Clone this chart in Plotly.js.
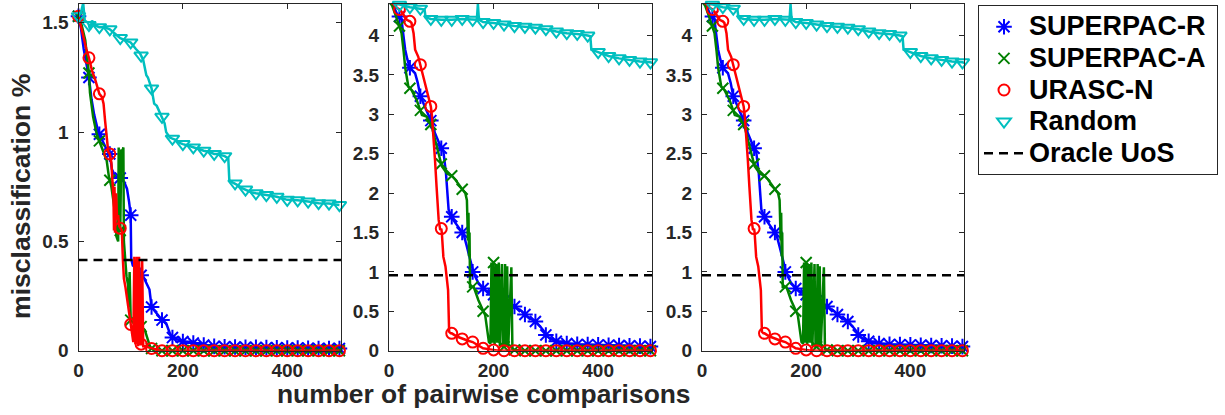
<!DOCTYPE html>
<html><head><meta charset="utf-8">
<script src="https://cdn.plot.ly/plotly-3.0.1.min.js"></script>
<style>html,body{margin:0;padding:0;background:#fff}</style>
</head><body><div id="chart" style="width:1225px;height:415px"></div>
<script>
// ---------- data ----------
const seriesNames = ['SUPERPAC-R', 'SUPERPAC-A', 'URASC-N', 'Random'];
const oracleName = 'Oracle UoS';
const xTicks = [0, 200, 400];
const xMax = 503;

// Panel 1
const p1_R_x = [0,5,10,16,20,25,30,38,40,45,52,60,64,70,80,88,93,97,100,101,104,110,118,120,124,130,136,140,150,160,168,175,180,190,200,220,240,260,280,300,320,340,360,380,400,420,440,460,480,500];
const p1_R_y = [1.53,1.47,1.38,1.31,1.25,1.15,1.08,1.0,0.99,0.96,0.93,0.9,0.83,0.8,0.79,0.77,0.74,0.68,0.62,0.42,0.39,0.38,0.35,0.345,0.34,0.31,0.28,0.2,0.17,0.14,0.125,0.08,0.06,0.05,0.042,0.035,0.026,0.02,0.018,0.017,0.016,0.015,0.014,0.013,0.012,0.012,0.011,0.01,0.01,0.01];
const p1_A_x = [0,5,9,13,16,20,22,28,35,40,47,54,58,60,63,66,70,73,76,77,78,80,82,84,86,87,89,92,95,96,98,100,104,110,116,120,127,133,137,140,150,160,180,200,220,240,260,280,300,320,340,360,380,400,420,440,460,480,500];
const p1_A_y = [1.53,1.5,1.46,1.42,1.35,1.27,1.18,1.07,0.99,0.96,0.91,0.87,0.8,0.78,0.75,0.7,0.63,0.52,0.5,0.93,0.6,0.55,0.92,0.91,0.93,0.5,0.41,0.34,0.3,0.2,0.36,0.14,0.13,0.12,0.11,0.11,0.095,0.05,0.02,0.01,0.005,0,0,0,0,0,0,0,0,0,0,0,0,0,0,0,0,0,0];
const p1_N_x = [0,5,10,15,20,26,32,40,45,48,51,54,57,60,63,65,67,68,69,70,72,74,76,78,80,83,85,87,90,93,96,100,103,105,107,109,112,114,116,118,120,122,124,128,134,140,150,160,180,200,220,240,260,280,300,320,340,360,380,400,420,440,460,480,500];
const p1_N_y = [1.53,1.48,1.42,1.38,1.34,1.28,1.24,1.175,1.16,1.13,1.05,0.99,0.91,0.9,0.86,0.78,0.7,0.55,0.75,0.54,0.72,0.6,0.62,0.57,0.56,0.55,0.42,0.33,0.29,0.24,0.2,0.12,0.09,0.04,0.43,0.03,0.43,0.02,0.43,0.03,0.03,0.41,0.02,0.02,0.015,0.01,0.005,0,0,0,0,0,0,0,0,0,0,0,0,0,0,0,0,0,0];
const p1_Rand_x = [0,5,9,12,18,20,22,26,30,40,50,60,70,80,90,100,110,118,120,124,130,133,140,145,150,156,160,165,168,175,180,186,195,200,214,220,235,240,249,260,265,280,287,289,295,300,303,312,320,322,331,340,360,380,400,420,440,460,480,500];
const p1_Rand_y = [1.53,1.55,1.59,1.51,1.5,1.49,1.47,1.51,1.49,1.48,1.48,1.47,1.45,1.43,1.42,1.41,1.38,1.36,1.35,1.33,1.26,1.25,1.2,1.13,1.12,1.09,1.07,1.04,1.0,0.975,0.97,0.965,0.95,0.945,0.935,0.93,0.92,0.915,0.91,0.9,0.9,0.89,0.88,0.78,0.77,0.765,0.76,0.745,0.737,0.735,0.725,0.72,0.712,0.704,0.69,0.688,0.682,0.675,0.673,0.666];
const p1_oracle = 0.415;

// Panels 2 and 3 (identical results)
const p2_R_x = [0,8,15,20,24,27,31,35,40,50,55,60,66,72,80,82,88,94,98,100,104,109,114,118,120,123,133,140,143,149,155,160,162,171,180,184,194,200,207,220,223,232,240,245,254,260,261,270,280,290,296,300,303,315,320,335,340,360,380,400,420,440,460,480,500,505];
const p2_R_y = [4.43,4.38,4.28,4.24,4.2,4.03,3.82,3.7,3.59,3.52,3.4,3.23,3.14,3.05,2.92,2.89,2.76,2.66,2.59,2.57,2.53,2.25,1.79,1.72,1.7,1.66,1.57,1.5,1.47,1.32,1.15,1.0,0.98,0.86,0.79,0.77,0.73,0.71,0.69,0.63,0.62,0.6,0.56,0.54,0.5,0.46,0.45,0.41,0.37,0.3,0.25,0.2,0.18,0.135,0.12,0.093,0.09,0.08,0.077,0.074,0.07,0.066,0.062,0.058,0.052,0.05];
const p2_A_x = [0,6,11.5,18,20,24,28,31,37,40,43,53,60,63,72,80,82,88,95,100,101,111,120,127,136,140,146,149,151,152,153,154,155,160,162,171,180,184,191,194,196,198,200,202,205,207,210,212,216,218,220,222,224,226,228,234,236,240,260,280,300,320,340,360,380,400,420,440,460,480,500,505];
const p2_A_y = [4.43,4.38,4.28,4.16,4.12,4.03,3.8,3.59,3.35,3.33,3.31,3.18,3.05,2.99,2.97,2.87,2.84,2.68,2.5,2.37,2.34,2.25,2.22,2.17,2.08,2.05,2.0,1.91,1.4,1.75,1.2,1.5,0.81,0.81,0.81,0.64,0.5,0.45,0.11,0.09,1.12,0.1,1.12,0.08,1.1,0.1,1.12,0.06,1.1,0.05,0.05,1.1,0.05,1.07,0.04,1.06,0.02,0.01,0,0,0,0,0,0,0,0,0,0,0,0,0,0];
const p2_N_x = [0,8,15,20,24,34,40,43,47,50,56,60,63,69,75,79,80,82,85,88,91,95,98,100,101,102,104,108,111,113,114,115,118,120,130,140,150,160,170,180,190,200,210,220,240,260,280,300,320,340,360,380,400,420,440,460,480,500,505];
const p2_N_y = [4.43,4.4,4.35,4.33,4.3,4.2,4.18,4.16,4.03,3.82,3.73,3.63,3.56,3.39,3.23,3.14,3.1,2.99,2.76,2.42,2.08,1.66,1.53,1.55,1.5,1.41,1.19,1.07,0.9,0.77,0.5,0.24,0.22,0.22,0.18,0.15,0.13,0.11,0.07,0.03,0.02,0.01,0,0,0,0,0,0,0,0,0,0,0,0,0,0,0,0,0];
const p2_Rand_x = [0,10,20,30,40,50,60,68,70,80,100,120,140,160,168,170,172,180,200,220,240,260,280,300,320,340,360,380,385,387,400,420,440,460,480,500,505];
const p2_Rand_y = [4.43,4.41,4.39,4.38,4.36,4.35,4.34,4.33,4.23,4.21,4.2,4.2,4.21,4.2,4.2,4.4,4.2,4.17,4.16,4.14,4.12,4.11,4.1,4.08,4.05,4.03,4.02,4.0,3.99,3.82,3.79,3.74,3.71,3.69,3.67,3.66,3.65];
const p2_oracle = 0.957;

// ---------- style ----------
const colors = ['#0000FF', '#008000', '#FF0000', '#00BFBF'];
const symbols = ['asterisk-open', 'x-thin-open', 'circle-open', 'triangle-down-open'];
const msizes = [13, 11, 11, 12];
const FONT = 'Liberation Sans, Arial, Helvetica, sans-serif';
const W = 1225, H = 415;
const legendLabel = t => '<span style="font-size:27px">' + t + '</span>&nbsp;';

const panels = [
  {xs: [p1_R_x, p1_A_x, p1_N_x, p1_Rand_x], ys: [p1_R_y, p1_A_y, p1_N_y, p1_Rand_y], oracle: p1_oracle, yTop: 1.586, dtick: 0.5, px: [78.5, 341]},
  {xs: [p2_R_x, p2_A_x, p2_N_x, p2_Rand_x], ys: [p2_R_y, p2_A_y, p2_N_y, p2_Rand_y], oracle: p2_oracle, yTop: 4.40, dtick: 0.5, px: [389, 652]},
  {xs: [p2_R_x, p2_A_x, p2_N_x, p2_Rand_x], ys: [p2_R_y, p2_A_y, p2_N_y, p2_Rand_y], oracle: p2_oracle, yTop: 4.40, dtick: 0.5, px: [702, 964]}
];

const traces = [];
const layout = {
  width: W, height: H,
  margin: {l: 0, r: 0, t: 0, b: 0},
  paper_bgcolor: '#fff', plot_bgcolor: '#fff',
  showlegend: true,
  legend: {
    x: 978 / W, y: 1 - 5 / H, xanchor: 'left', yanchor: 'top',
    bordercolor: '#262626', borderwidth: 1, bgcolor: '#fff',
    font: {family: FONT, size: 22, weight: 'bold', color: '#000'},
    itemwidth: 40, tracegroupgap: 0
  },
  annotations: [
    {text: 'number of pairwise comparisons', xref: 'paper', yref: 'paper', x: 484 / W, y: 1 - 394 / H,
     xanchor: 'center', yanchor: 'middle', showarrow: false, font: {family: FONT, size: 26.4, weight: 'bold', color: '#262626'}},
    {text: 'misclassification %', xref: 'paper', yref: 'paper', x: 21 / W, y: 1 - 197 / H, textangle: -90,
     xanchor: 'center', yanchor: 'middle', showarrow: false, font: {family: FONT, size: 26.6, weight: 'bold', color: '#262626'}}
  ]
};

const axisCommon = {
  showline: true, linecolor: '#262626', linewidth: 1, mirror: 'ticks',
  ticks: 'inside', ticklen: 5, tickcolor: '#262626', tickwidth: 1,
  showgrid: false, zeroline: false, fixedrange: true,
  tickfont: {family: FONT, size: 19, weight: 'bold', color: '#262626'}
};

panels.forEach((p, i) => {
  const n = i + 1;
  const xa = 'x' + (n > 1 ? n : ''), ya = 'y' + (n > 1 ? n : '');
  layout['xaxis' + (n > 1 ? n : '')] = Object.assign({}, axisCommon, {
    domain: [p.px[0] / W, p.px[1] / W], range: [0, xMax], tickvals: xTicks, anchor: ya, ticklabelstandoff: 2
  });
  layout['yaxis' + (n > 1 ? n : '')] = Object.assign({}, axisCommon, {
    domain: [1 - 350.7 / H, 1 - 4 / H], range: [0, p.yTop], tick0: 0, dtick: p.dtick, anchor: xa, ticklabelstandoff: 5
  });
  for (let s = 0; s < 4; s++) {
    const x = p.xs[s], y = p.ys[s];
    traces.push({x: x, y: y, xaxis: xa, yaxis: ya, mode: 'lines', type: 'scatter',
      line: {color: colors[s], width: 2.5}, showlegend: false, hoverinfo: 'skip', name: seriesNames[s]});
    const mx = [], my = [];
    x.forEach((v, k) => { if (v % 20 === 0) { mx.push(v); my.push(y[k]); } });
    traces.push({x: mx, y: my, xaxis: xa, yaxis: ya, mode: 'markers', type: 'scatter', cliponaxis: false,
      marker: {symbol: symbols[s], size: msizes[s], color: colors[s], line: {color: colors[s], width: 2}},
      showlegend: i === 0, name: legendLabel(seriesNames[s]), legendrank: s + 1});
  }
  traces.push({x: [0, xMax], y: [p.oracle, p.oracle], xaxis: xa, yaxis: ya, mode: 'lines', type: 'scatter',
    line: {color: '#000', width: 2.5, dash: '9px,6px'}, showlegend: i === 0, name: legendLabel(oracleName), legendrank: 5});
});

Plotly.newPlot('chart', traces, layout, {displayModeBar: false, staticPlot: true});
</script>
</body></html>
